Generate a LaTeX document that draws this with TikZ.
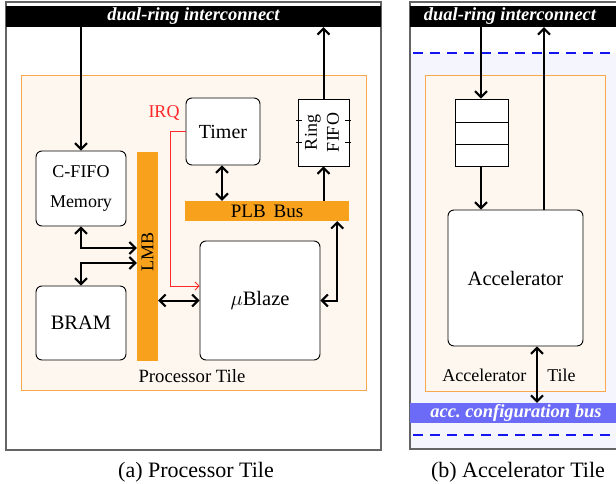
\documentclass[tikz,border=0pt]{standalone}
\usepackage{fontspec}
\setmainfont{Liberation Serif}
\usetikzlibrary{arrows.meta,calc}
\definecolor{barorange}{RGB}{247,161,29}
\definecolor{tilefill}{RGB}{254,247,240}
\definecolor{tileborder}{RGB}{250,168,80}
\definecolor{lavender}{RGB}{245,245,254}
\definecolor{accblue}{RGB}{107,107,247}
\definecolor{framegray}{RGB}{100,100,100}
\definecolor{irqred}{RGB}{255,40,40}
\definecolor{dashblue}{RGB}{20,20,240}
\begin{document}
\begin{tikzpicture}[x=1pt,y=-1pt,
  frame/.style={draw=framegray,line width=1.1pt},
  band/.style={fill=black,text=white,inner sep=0pt,minimum height=21pt,
    font=\fontsize{18.5}{20}\selectfont\bfseries\itshape},
  accband/.style={fill=accblue,text=white,inner sep=0pt,minimum height=20pt,
    font=\fontsize{18.5}{20}\selectfont\bfseries\itshape},
  tile/.style={fill=tilefill,draw=tileborder,line width=1pt},
  blk/.style={draw=black,fill=white,rounded corners=6pt,line width=0.9pt,inner sep=0pt,align=center},
  bar/.style={fill=barorange,inner sep=0pt},
  lbl/.style={inner sep=0pt},
  conn/.style={line width=2pt,>={Straight Barb[length=6pt,width=12pt,line width=2pt]}},
  irqline/.style={draw=irqred,line width=0.9pt,>={Straight Barb[length=4pt,width=8pt]}},
  dashline/.style={draw=dashblue,line width=1.1pt,dash pattern=on 10pt off 7pt}
]
\useasboundingbox (0,0) rectangle (616,484);

% ---------------- (a) Processor tile ----------------
\draw[frame] (6,2) rectangle (381,450);
\node[band,minimum width=375pt] (bandL) at (193.5,16.5) {dual-ring interconnect};
\draw[tile] (21,76) rectangle (366,390);

\node[blk,minimum width=90pt,minimum height=75pt,font=\fontsize{18}{30}\selectfont] (cfifo) at (81,188.5) {C-FIFO\\Memory};
\node[blk,minimum width=90pt,minimum height=74pt,font=\fontsize{20.5}{22}\selectfont] (bram) at (81,323) {BRAM};
\node[bar,minimum width=21pt,minimum height=209pt] (lmb) at (147.5,256.5) {};
\node[lbl,rotate=90,font=\fontsize{18}{20}\selectfont] (lmbtxt) at (147.5,252) {LMB};
\node[blk,minimum width=74pt,minimum height=67pt,font=\fontsize{20}{22}\selectfont] (timer) at (223,131.5) {Timer};
\node[draw=black,fill=white,line width=0.9pt,minimum width=51pt,minimum height=67pt,inner sep=0pt] (ring) at (323.5,132.5) {};
\node[lbl,rotate=90,align=center,font=\fontsize{18}{22}\selectfont] (ringtxt) at (322,132.5) {Ring\\FIFO};
\foreach \yy in {120,142}{
  \draw[line width=0.9pt] (296,\yy) -- (302,\yy);
  \draw[line width=0.9pt] (345,\yy) -- (351,\yy);
}
\node[bar,minimum width=164pt,minimum height=20pt,font=\fontsize{19}{20}\selectfont] (plb) at (267,211) {PLB\ \,Bus};
\node[blk,minimum width=120pt,minimum height=119pt,font=\fontsize{20.5}{22}\selectfont] (ublaze) at (260,300.5) {$\mu$Blaze};
\node[lbl,text=irqred,font=\fontsize{18}{20}\selectfont] (irq) at (164,113) {IRQ};
\node[lbl,font=\fontsize{18.7}{20}\selectfont] (ptile) at (192,376) {Processor Tile};
\node[lbl,font=\fontsize{22}{24}\selectfont] (capa) at (196,472) {(a) Processor Tile};

% connectors (a)
\draw[conn,->] (cfifo.north |- bandL.south) -- (cfifo.north);
\draw[conn,->] (ring.north) -- (ring.north |- bandL.south);
\draw[conn,->] (ring.south |- plb.north) -- (ring.south);
\draw[conn,<->] ([xshift=-1pt]timer.south) -- ([xshift=-1pt]timer.south |- plb.north);
\draw[conn,<->] (cfifo.south) |- ([yshift=8.5pt]lmb.west);
\draw[conn,<->] ([yshift=-6.5pt]lmb.west) -| (bram.north);
\draw[conn,<->] (lmb.east |- ublaze.west) -- (ublaze.west);
\draw[conn,<->] (ublaze.east) -| ([xshift=-12pt]plb.south east);
\draw[irqline,->] (timer.west) -- ++(-15,0) |- ([yshift=14.5pt]ublaze.west);

% ---------------- (b) Accelerator tile ----------------
\fill[lavender] (410,53) rectangle (620,448);
\draw[frame] (410,2) rectangle (622,449);
\node[band,minimum width=212pt] (bandR) at (516,16.5) {\hspace*{-12pt}dual-ring interconnect};
\draw[dashline] (413,53) -- (616,53);
\draw[dashline] (413,435) -- (616,435);
\draw[tile] (425,76) rectangle (605,391);
\node[draw=black,fill=white,line width=0.9pt,minimum width=53pt,minimum height=67pt,inner sep=0pt] (fifo) at (481.5,132.5) {};
\draw[line width=0.9pt] ([yshift=10.5pt]fifo.west) -- ([yshift=10.5pt]fifo.east);
\draw[line width=0.9pt] ([yshift=-11.5pt]fifo.west) -- ([yshift=-11.5pt]fifo.east);
\node[blk,minimum width=135pt,minimum height=136pt,font=\fontsize{20.5}{22}\selectfont] (acc) at (515.5,278) {Accelerator};
\node[accband,minimum width=212pt] (accbus) at (516,413) {acc.\ configuration bus};
\node[lbl,font=\fontsize{18}{20}\selectfont] (atile) at (509,375) {Accelerator\hspace{21pt}Tile};
\node[lbl,font=\fontsize{22}{24}\selectfont] (capb) at (518,472) {(b) Accelerator Tile};

% connectors (b)
\draw[conn,->] ([xshift=-0.5pt]fifo.north |- bandR.south) -- ([xshift=-0.5pt]fifo.north);
\draw[conn,->] ([xshift=-0.5pt]fifo.south) -- ([xshift=-0.5pt]fifo.south |- acc.north);
\draw[conn,->] ([xshift=28.5pt]acc.north) -- ([xshift=28.5pt]acc.north |- bandR.south);
\draw[conn,<->] ([xshift=21.5pt]acc.south) -- ([xshift=21.5pt]acc.south |- accbus.north);
\end{tikzpicture}
\end{document}
